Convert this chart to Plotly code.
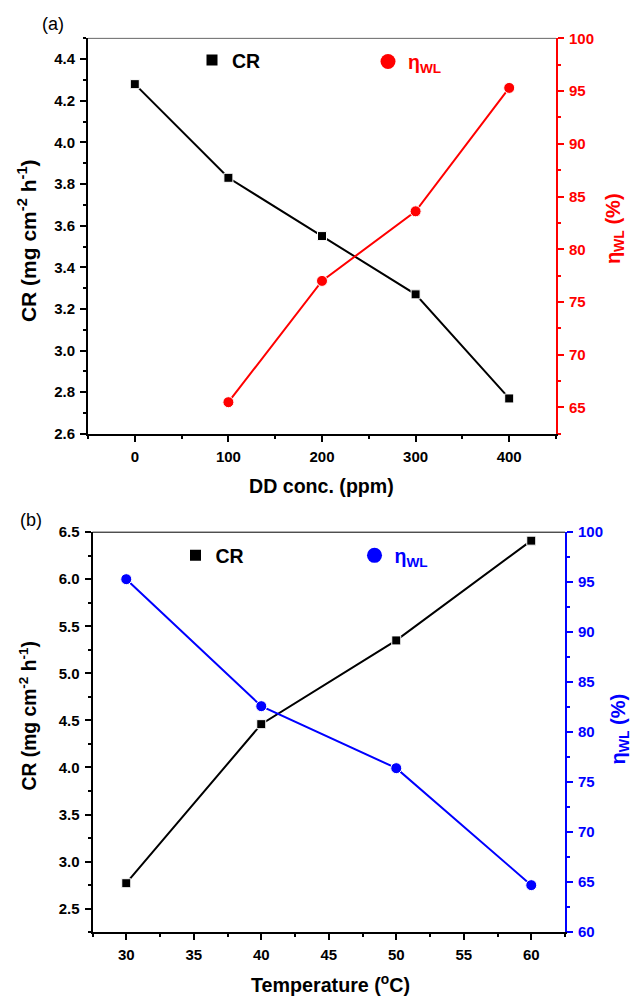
import plotly.graph_objects as go

# ---------------- data ----------------
dd_conc = [0, 100, 200, 300, 400]
cr_dd = [4.28, 3.83, 3.55, 3.27, 2.77]
eta_dd_x = [100, 200, 300, 400]
eta_dd = [65.5, 77.0, 83.6, 95.3]

temperature = [30, 40, 50, 60]
cr_temp = [2.77, 4.46, 5.35, 6.41]
eta_temp = [95.3, 82.6, 76.4, 64.7]

W, H = 634, 998
FONT = "Liberation Sans, Arial, sans-serif"
RED = "#FF0000"
BLUE = "#0000FF"

# measured mapping of the photographed page: shown_y = A + S * figure_y
A, S = 7.6, 0.9843


def px(x):
    return x / W


def py(y):
    return 1 - ((y - A) / S) / H


fig = go.Figure()

# panel (a)
fig.add_trace(go.Scatter(x=dd_conc, y=cr_dd, mode="lines+markers", xaxis="x", yaxis="y",
                         line=dict(color="black", width=2),
                         marker=dict(symbol="square", size=9, color="black",
                                     line=dict(color="white", width=1)),
                         showlegend=False))
fig.add_trace(go.Scatter(x=eta_dd_x, y=eta_dd, mode="lines+markers", xaxis="x", yaxis="y2",
                         line=dict(color=RED, width=2),
                         marker=dict(symbol="circle", size=11, color=RED,
                                     line=dict(color="white", width=1)),
                         showlegend=False))
# panel (b)
fig.add_trace(go.Scatter(x=temperature, y=cr_temp, mode="lines+markers", xaxis="x2", yaxis="y3",
                         line=dict(color="black", width=2),
                         marker=dict(symbol="square", size=9, color="black",
                                     line=dict(color="white", width=1)),
                         showlegend=False))
fig.add_trace(go.Scatter(x=temperature, y=eta_temp, mode="lines+markers", xaxis="x2", yaxis="y4",
                         line=dict(color=BLUE, width=2),
                         marker=dict(symbol="circle", size=11, color=BLUE,
                                     line=dict(color="white", width=1)),
                         showlegend=False))

# legend entries (marker only)
fig.add_trace(go.Scatter(x=[None], y=[None], mode="markers", name="CR", xaxis="x", yaxis="y",
                         marker=dict(symbol="square", size=11, color="black"), legend="legend"))
fig.add_trace(go.Scatter(x=[None], y=[None], mode="markers", name="η<sub>WL</sub>", xaxis="x", yaxis="y2",
                         marker=dict(symbol="circle", size=15, color=RED), legend="legend2"))
fig.add_trace(go.Scatter(x=[None], y=[None], mode="markers", name="CR", xaxis="x2", yaxis="y3",
                         marker=dict(symbol="square", size=11, color="black"), legend="legend3"))
fig.add_trace(go.Scatter(x=[None], y=[None], mode="markers", name="η<sub>WL</sub>", xaxis="x2", yaxis="y4",
                         marker=dict(symbol="circle", size=15, color=BLUE), legend="legend4"))

TICK = 15


def xaxis(domain, anchor, rng, dtick, mdtick):
    return dict(domain=domain, anchor=anchor, range=rng, dtick=dtick, tick0=0,
                showline=True, linecolor="black", linewidth=2, showgrid=False, zeroline=False,
                ticks="outside", ticklen=6, tickwidth=2, tickcolor="black",
                tickfont=dict(family=FONT, size=TICK, color="black", weight="bold"),
                ticklabelstandoff=2,
                minor=dict(dtick=mdtick, tick0=0, ticks="outside", ticklen=3, tickwidth=2,
                           tickcolor="black", showgrid=False))


def yaxis(domain, anchor, rng, dtick, mdtick, color, side="left", overlaying=None, fmt=None):
    d = dict(domain=domain, anchor=anchor, range=rng, dtick=dtick, tick0=0, side=side,
             showline=True, linecolor=color, linewidth=2, showgrid=False, zeroline=False,
             ticks="outside", ticklen=6, tickwidth=2, tickcolor=color,
             tickfont=dict(family=FONT, size=TICK, color=color, weight="bold"),
             ticklabelstandoff=2,
             minor=dict(dtick=mdtick, tick0=0, ticks="outside", ticklen=3, tickwidth=2,
                        tickcolor=color, showgrid=False))
    if overlaying:
        d["overlaying"] = overlaying
    if fmt:
        d["tickformat"] = fmt
    return d


xa_dom = [px(88), px(556)]
xb_dom = [px(92.5), px(565)]
ya_dom = [py(433), py(37)]
yb_dom = [py(932), py(531.5)]


def leg(x, y, color):
    return dict(x=px(x), y=py(y), xanchor="left", yanchor="middle", bgcolor="rgba(0,0,0,0)",
                font=dict(family=FONT, size=19.5, weight="bold", color=color),
                itemsizing="trace", borderwidth=0)


fig.update_layout(
    width=W, height=H, margin=dict(l=0, r=0, t=0, b=0),
    paper_bgcolor="white", plot_bgcolor="white",
    font=dict(family=FONT),
    xaxis=xaxis(xa_dom, "y", [-50, 450], 100, 50),
    yaxis=yaxis(ya_dom, "x", [2.6, 4.5], 0.2, 0.1, "black", fmt=".1f"),
    yaxis2=yaxis(ya_dom, "x", [62.5, 100], 5, 2.5, RED, side="right", overlaying="y"),
    xaxis2=xaxis(xb_dom, "y3", [27.5, 62.5], 5, 2.5),
    yaxis3=yaxis(yb_dom, "x2", [2.25, 6.5], 0.5, 0.25, "black", fmt=".1f"),
    yaxis4=yaxis(yb_dom, "x2", [60, 100], 5, 2.5, BLUE, side="right", overlaying="y3"),
    legend=leg(192, 59, "black"),
    legend2=leg(368, 60.5, RED),
    legend3=leg(175.5, 555, "black"),
    legend4=leg(354.5, 555, BLUE),
)

# top borders of the frames
fig.add_shape(type="line", xref="paper", yref="paper", x0=xa_dom[0], x1=xa_dom[1],
              y0=ya_dom[1], y1=ya_dom[1], line=dict(color="#666666", width=1))
fig.add_shape(type="line", xref="paper", yref="paper", x0=xb_dom[0], x1=xb_dom[1],
              y0=yb_dom[1], y1=yb_dom[1], line=dict(color="black", width=1))


def tf(size, color="black"):
    return dict(family=FONT, size=size, color=color, weight="bold")


ann = [
    dict(text="(a)", x=px(53), y=py(23), font=dict(family=FONT, size=18, color="black")),
    dict(text="(b)", x=px(31), y=py(519), font=dict(family=FONT, size=18, color="black")),
    dict(text="DD conc. (ppm)", x=px(322), y=py(485), font=tf(19.6)),
    dict(text="Temperature (<sup>o</sup>C)", x=px(330), y=py(984), font=tf(19.7)),
    dict(text="CR (mg cm<sup>-2</sup> h<sup>-1</sup>)", x=px(27), y=py(240), textangle=-90, font=tf(21)),
    dict(text="CR (mg cm<sup>-2</sup> h<sup>-1</sup>)", x=px(28), y=py(716), textangle=-90, font=tf(19.3)),
    dict(text="η<sub>WL</sub> (%)", x=px(614), y=py(228), textangle=-90, font=tf(20, RED)),
    dict(text="η<sub>WL</sub> (%)", x=px(619), y=py(729), textangle=-90, font=tf(20, BLUE)),
]
for a in ann:
    fig.add_annotation(xref="paper", yref="paper", showarrow=False,
                       xanchor="center", yanchor="middle", **a)

fig.write_html("out.html")
